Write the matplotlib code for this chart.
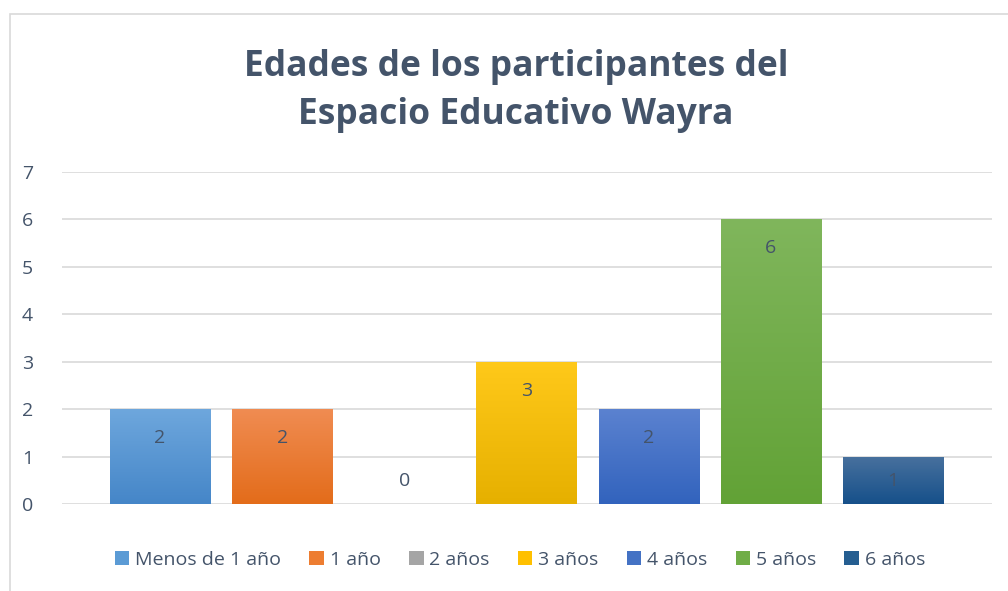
import matplotlib
matplotlib.use("Agg")
import matplotlib.pyplot as plt
import numpy as np
from matplotlib.patches import Rectangle, Patch
from matplotlib.colors import LinearSegmentedColormap

categories = ["Menos de 1 año", "1 año", "2 años", "3 años", "4 años", "5 años", "6 años"]
values = [2, 2, 0, 3, 2, 6, 1]
title = "Edades de los participantes del\nEspacio Educativo Wayra"
yticks = [0, 1, 2, 3, 4, 5, 6, 7]

# (top color, bottom color)
colors = [("#6EA7DD", "#4586C8"), ("#F08C52", "#E36C1A"), ("#B5B5B5", "#959595"),
          ("#FFC91A", "#E6B000"), ("#5B82D0", "#3263BD"), ("#80B65C", "#62A236"),
          ("#48719E", "#16508A")]
legend_colors = ["#5B9BD5", "#ED7D31", "#A5A5A5", "#FFC000", "#4472C4", "#70AD47", "#255E91"]
txt = "#44546A"
font = "Open Sans"

fig = plt.figure(figsize=(10.08, 5.91), dpi=100)
W, H = 1008, 591
ax = fig.add_axes([62 / W, 1 - 504 / H, (992 - 62) / W, (504 - 172) / H])

x = np.arange(len(categories))
width = 100 / 122
bars = ax.bar(x, values, width=width, color=[c[1] for c in colors], zorder=2, linewidth=0)
for b, (ct, cb) in zip(bars, colors):
    if b.get_height() <= 0:
        continue
    cmap = LinearSegmentedColormap.from_list("g", [cb, ct])
    grad = np.linspace(0, 1, 256).reshape(-1, 1)
    im = ax.imshow(grad, cmap=cmap, aspect="auto", origin="lower",
                   extent=[b.get_x(), b.get_x() + b.get_width(), 0, b.get_height()], zorder=3)
    im.set_clip_path(b)

for xi, v in zip(x, values):
    ax.text(xi, max(v - 0.61, 0.49), str(v), ha="center", va="center",
            fontsize=14, color=txt, family=font, zorder=4)

ax.set_xlim(-0.803, 6.811)
ax.set_ylim(0, 7)
ax.set_yticks(yticks)
ax.set_xticks([])
ax.grid(axis="y", color="#D9D9D9", linewidth=1.2, zorder=0)
for s in ax.spines.values():
    s.set_visible(False)
ax.tick_params(axis="y", length=0, pad=21, labelsize=14, labelcolor=txt)
for lab in ax.get_yticklabels():
    lab.set_family(font)

fig.text(516 / W, 1 - 91 / H, title, ha="center", va="center", fontsize=25.5,
         fontweight="bold", color=txt, family=font, linespacing=1.45)

handles = [Patch(facecolor=c, label=cat) for c, cat in zip(legend_colors, categories)]
leg = fig.legend(handles=handles, loc="center", bbox_to_anchor=(520 / W, 1 - 560 / H), ncol=7,
                 frameon=False, handlelength=0.75, handleheight=0.75,
                 handletextpad=0.3, columnspacing=1.45, prop={"family": font, "size": 14})
for t in leg.get_texts():
    t.set_color(txt)

fig.patches.append(Rectangle((10 / W, -0.1), 1.2, 1 - 14 / H + 0.1, transform=fig.transFigure,
                             fill=False, edgecolor="#D9D9D9", linewidth=1.2))

fig.savefig("out.png", dpi=100)
